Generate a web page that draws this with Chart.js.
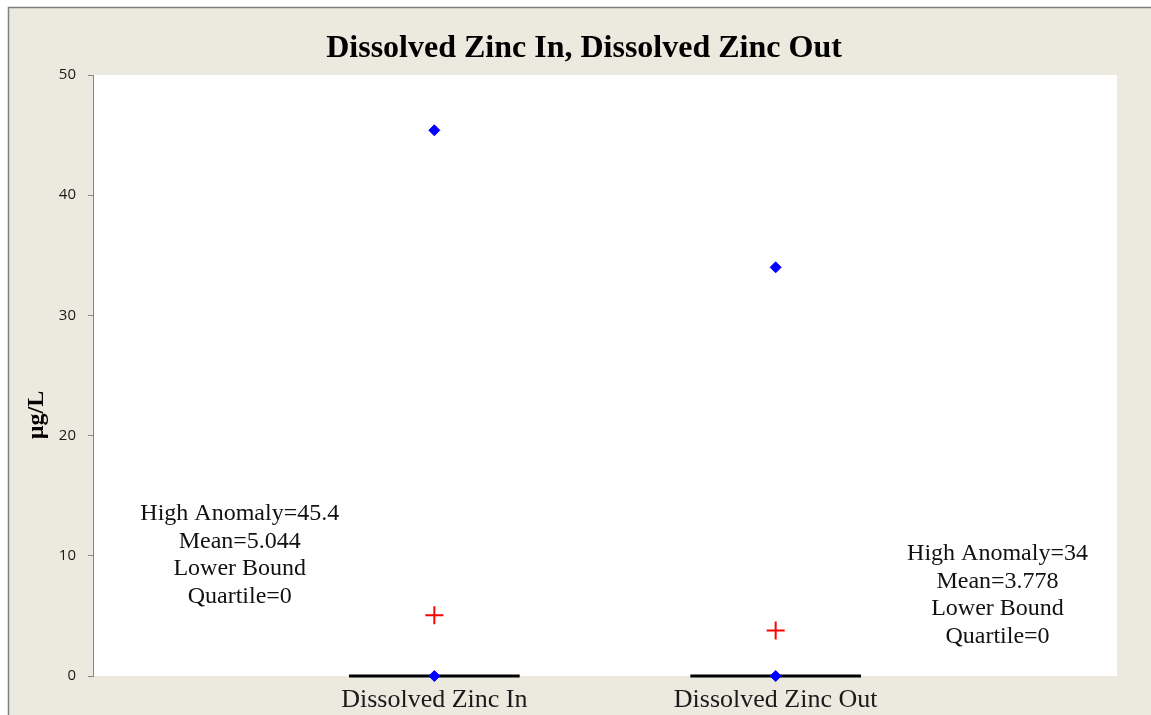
<!DOCTYPE html>
<html>
<head>
<meta charset="utf-8">
<title>Dissolved Zinc In, Dissolved Zinc Out</title>
<script src="https://cdn.jsdelivr.net/npm/chart.js@4.4.1/dist/chart.umd.min.js"></script>
<style>
  html, body { margin: 0; padding: 0; background: #ffffff; }
  #ChartBox { position: relative; width: 1151px; height: 715px; }
</style>
</head>
<body>
<div id="ChartBox"><canvas id="ZincChart"></canvas></div>
<script>
// data
const CATEGORIES = ['Dissolved Zinc In', 'Dissolved Zinc Out'];
const CATEGORY_X = [1, 2];
const HIGH_ANOMALY = [45.4, 34];
const MEAN_VALUES = [5.044, 3.778];
const LOWER_QUARTILE = [0, 0];
const MEDIAN_VALUES = [0, 0];
const UPPER_QUARTILE = [0, 0];
const LOWER_BOUND = [0, 0];
const Y_TICKS = [0, 10, 20, 30, 40, 50];

const ChartCanvas = document.getElementById("ZincChart");

const BEIGE = '#ECE9DF';
const AXIS_GRAY = '#868686';
const SERIF = '"Liberation Serif", "Times New Roman", serif';

function GetBoxPoints()
{
    var BoxPoints = [];
    for (let i = 0; i < CATEGORY_X.length; i++)
    {
        let x = CATEGORY_X[i];
        BoxPoints.push({x: x - 0.25, y: LOWER_QUARTILE[i]});
        BoxPoints.push({x: x + 0.25, y: LOWER_QUARTILE[i]});
        BoxPoints.push({x: x + 0.25, y: UPPER_QUARTILE[i]});
        BoxPoints.push({x: x - 0.25, y: UPPER_QUARTILE[i]});
        BoxPoints.push({x: x - 0.25, y: LOWER_QUARTILE[i]});
        BoxPoints.push({x: x, y: null});
        BoxPoints.push({x: x - 0.25, y: MEDIAN_VALUES[i]});
        BoxPoints.push({x: x + 0.25, y: MEDIAN_VALUES[i]});
        BoxPoints.push({x: x, y: null});
    }
    return BoxPoints;
}

function GetDataPoints()
{
    var DataPoints = [];
    for (let i = 0; i < CATEGORY_X.length; i++)
    {
        DataPoints.push({x: CATEGORY_X[i], y: HIGH_ANOMALY[i]});
        DataPoints.push({x: CATEGORY_X[i], y: LOWER_BOUND[i]});
    }
    return DataPoints;
}

function GetMeanPoints()
{
    var MeanPoints = [];
    for (let i = 0; i < CATEGORY_X.length; i++)
    {
        MeanPoints[i] = {x: CATEGORY_X[i], y: MEAN_VALUES[i]};
    }
    return MeanPoints;
}

function GetNoteLines(i)
{
    return [
        'High Anomaly=' + HIGH_ANOMALY[i],
        'Mean=' + MEAN_VALUES[i],
        'Lower Bound',
        'Quartile=' + LOWER_QUARTILE[i]
    ];
}

// frame, title, axis label and the text notes
const FramePlugin = {
    id: 'frame',
    beforeDraw(chart) {
        const ctx = chart.ctx;
        const area = chart.chartArea;
        ctx.save();
        ctx.fillStyle = '#ffffff';
        ctx.fillRect(0, 0, chart.width, chart.height);
        ctx.fillStyle = BEIGE;
        ctx.fillRect(9, 8, chart.width - 9, chart.height - 8);
        ctx.strokeStyle = '#808080';
        ctx.lineWidth = 1.5;
        ctx.beginPath();
        ctx.moveTo(8.5, chart.height);
        ctx.lineTo(8.5, 7.5);
        ctx.lineTo(chart.width, 7.5);
        ctx.stroke();
        ctx.fillStyle = '#ffffff';
        ctx.fillRect(area.left, area.top, area.right - area.left, area.bottom - area.top);
        ctx.restore();
    },
    afterDraw(chart) {
        const ctx = chart.ctx;
        const xs = chart.scales.x;
        const ys = chart.scales.y;
        ctx.save();
        ctx.fillStyle = '#000000';
        ctx.textAlign = 'center';
        ctx.textBaseline = 'middle';
        ctx.font = 'bold 32px ' + SERIF;
        ctx.fillText('Dissolved Zinc In, Dissolved Zinc Out', 584, 49);

        ctx.save();
        ctx.translate(37, 415);
        ctx.rotate(-Math.PI / 2);
        ctx.font = 'bold 24px ' + SERIF;
        ctx.fillText('µg/L', 0, 0);
        ctx.restore();

        // note positions in axis units
        const NoteX = [0.43, 2.65];
        const NoteTop = [13.5, 10.15];
        ctx.font = '24px ' + SERIF;
        ctx.fillStyle = '#111111';
        for (let i = 0; i < CATEGORIES.length; i++)
        {
            let lines = GetNoteLines(i);
            let px = xs.getPixelForValue(NoteX[i]);
            let py = ys.getPixelForValue(NoteTop[i]);
            for (let j = 0; j < lines.length; j++)
            {
                ctx.fillText(lines[j], px, py + j * 27.5);
            }
        }
        ctx.restore();
    }
};

const ChartData = {
    datasets: [
        {
            label: 'Data',
            data: GetDataPoints(),
            pointStyle: 'rectRot',
            pointRadius: 5.5,
            pointBackgroundColor: '#0000FF',
            pointBorderColor: '#0000FF',
            pointBorderWidth: 1,
            showLine: false,
            order: 1
        },
        {
            label: 'Mean',
            data: GetMeanPoints(),
            pointStyle: 'cross',
            pointRadius: 9,
            pointBorderColor: '#FF0000',
            pointBorderWidth: 2,
            showLine: false,
            order: 2
        },
        {
            label: 'Box',
            data: GetBoxPoints(),
            showLine: true,
            spanGaps: false,
            borderColor: '#000000',
            borderWidth: 3,
            pointRadius: 0,
            order: 3
        }
    ]
};

const ChartOption = {
    responsive: false,
    animation: false,
    clip: false,
    layout: {
        padding: { left: 0, top: 75, right: 34, bottom: 0 }
    },
    scales: {
        x: {
            type: 'linear',
            min: 0,
            max: 3,
            afterBuildTicks: (scale) => {
                scale.ticks = CATEGORY_X.map(v => ({ value: v }));
            },
            afterFit: (scale) => { scale.height = 39; },
            grid: { display: false },
            border: { display: false },
            ticks: {
                autoSkip: false,
                maxRotation: 0,
                padding: 1,
                color: '#1a1a1a',
                font: { family: SERIF, size: 26 },
                callback: (value) => CATEGORIES[CATEGORY_X.indexOf(value)]
            }
        },
        y: {
            type: 'linear',
            min: 0,
            max: 50,
            afterBuildTicks: (scale) => {
                scale.ticks = Y_TICKS.map(v => ({ value: v }));
            },
            afterFit: (scale) => { scale.width = 93; },
            grid: {
                display: true,
                drawOnChartArea: false,
                drawTicks: true,
                tickLength: 5,
                color: AXIS_GRAY
            },
            border: { display: true, color: AXIS_GRAY, width: 1 },
            ticks: {
                padding: 12,
                color: '#1a1a1a',
                font: { family: '"Open Sans", sans-serif', size: 15 }
            }
        }
    },
    plugins: {
        legend: { display: false },
        tooltip: { enabled: false },
        title: { display: false }
    }
};

ChartCanvas.width = 1151;
ChartCanvas.height = 715;

var ZincChartVar = new Chart(ChartCanvas, {
    type: 'scatter',
    data: ChartData,
    options: ChartOption,
    plugins: [FramePlugin]
});
</script>
</body>
</html>
